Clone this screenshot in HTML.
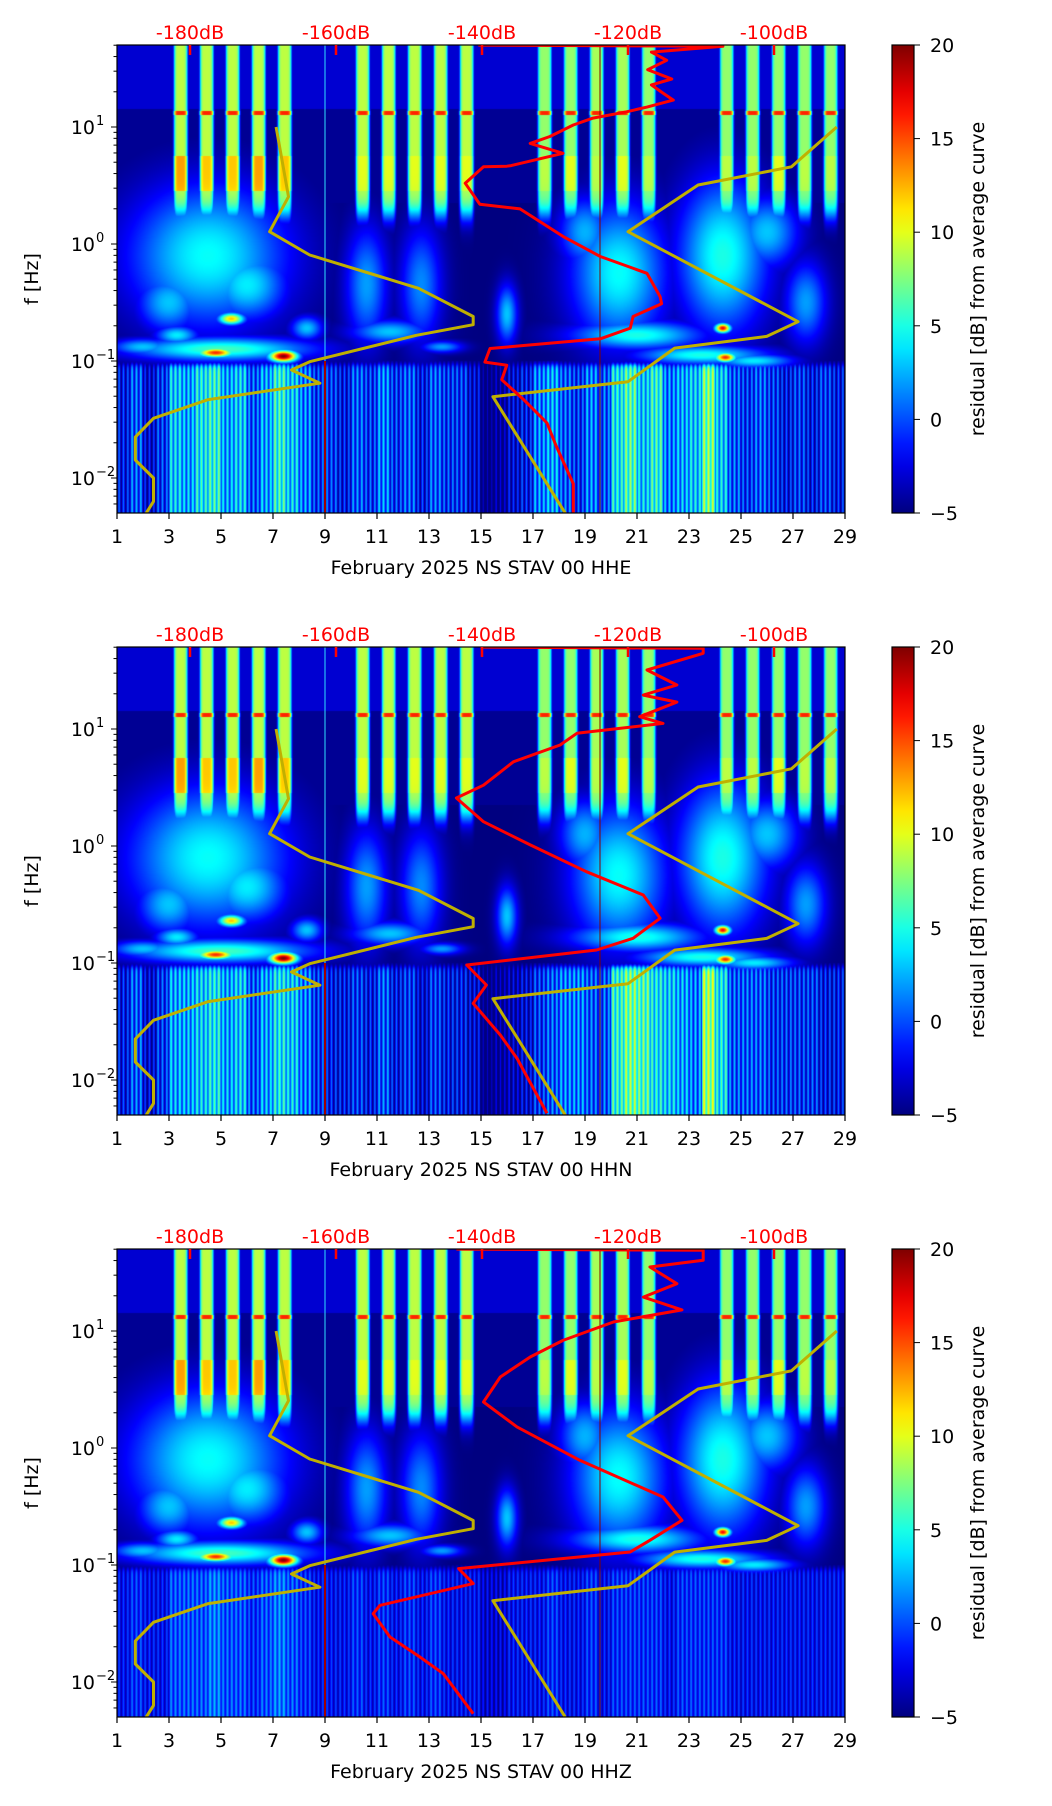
<!DOCTYPE html>
<html><head><meta charset="utf-8">
<style>
html,body{margin:0;padding:0;background:#fff;}
body{width:1052px;height:1806px;position:relative;overflow:hidden;font-family:"DejaVu Sans","Liberation Sans",sans-serif;}
canvas{position:absolute;}
svg{position:absolute;left:0;top:0;}
</style></head>
<body>
<canvas id="c0" width="728" height="468" style="left:117px;top:45px"></canvas>
<canvas id="c1" width="728" height="468" style="left:117px;top:647px"></canvas>
<canvas id="c2" width="728" height="468" style="left:117px;top:1249px"></canvas>
<svg id="ov" width="1052" height="1806"></svg>
<script>
// ---------- data ----------
const xTickDays=[1,3,5,7,9,11,13,15,17,19,21,23,25,27,29];
const dbTicks=[-180,-160,-140,-120,-100];
const cbTicks=[20,15,10,5,0,-5];
const yDecades=[1,0,-1,-2];
const panelTitles=["February 2025 NS STAV 00 HHE","February 2025 NS STAV 00 HHN","February 2025 NS STAV 00 HHZ"];
const stripeDays=[3.45,4.45,5.45,6.45,7.45,10.45,11.45,12.45,13.45,14.45,17.45,18.45,19.45,20.45,21.45,24.45,25.45,26.45,27.45,28.45];
const stripeVals=[9,9,9,9,9,9,9,9,9,9,8,8,8.5,8.5,8,8,8,8,8,8];
const stripeHot=[13,12,12,13,12,10,10,10,10,10,9,10,9,10,9,9,9,10,9,9];
const blobDay=[4.5,6.0,3.0,10.6,12.7,16.0,20.3,24.3,27.5,5.0,4.8,7.4,5.4,3.3,8.3,11.5,21.0,24.3,24.4,23.5,25.5,2.0,13.5,19.0,26.0];
const blobLogf=[-0.1,-0.35,-0.5,-0.35,-0.35,-0.6,-0.25,-0.1,-0.5,-0.9,-0.93,-0.96,-0.64,-0.78,-0.72,-0.75,-0.78,-0.72,-0.97,-0.95,-1.0,-0.88,-0.88,0.1,0.1];
const blobVal=[4.5,4,3,2,1.5,3,4.5,5,2,6,16,20,12,4,3,3,5,17,16,5,4,3,2,2.5,3];
const lowP1=[1,3,0,2,6,5,7,8,5,6,3,5,8,6,4,2,2,1,3,2,4,2,3,1,3,2,2,0,-3,-2,0,1,4,5,3,2,4,3,7,9,6,8,4,5,6,10,6,3,2,3,2,1,2,1,2,1];
const lowP2=[1,3,0,2,5,5,6,7,5,6,3,5,7,6,4,2,1,1,2,1,3,1,2,0,2,1,1,0,-3,-2,-1,0,2,3,4,4,3,3,8,10,9,7,6,5,4,11,7,3,3,3,2,2,2,2,1,1];
const lowP3=[0,1,0,0,2,2,2,3,2,2,1,2,3,2,1,0,0,0,1,0,1,0,1,0,1,0,0,0,-1,-1,0,0,0,1,0,0,1,0,1,1,1,1,0,1,1,1,1,0,0,0,0,0,0,0,0,0];
const nlnmLogf=[1,0.404,0.105,-0.094,-0.379,-0.62,-0.69,-0.78,-1.006,-1.077,-1.19,-1.33,-1.49,-1.65,-1.846,-2,-2.2,-2.3];
const nlnmDb=[-168.2,-166.5,-169.1,-163.6,-148.7,-141.2,-141.2,-149,-163.6,-166.1,-162.2,-177.5,-185,-187.5,-187.5,-185,-185,-186];
const nhnmLogf=[1,0.66,0.504,0.105,-0.664,-0.79,-0.89,-1.177,-1.305,-2.3];
const nhnmDb=[-91.4,-97.6,-110.4,-120,-96.7,-101,-113.6,-120,-138.5,-128.6];
const red1Logf=[1.7,1.69,1.64,1.57,1.49,1.41,1.36,1.29,1.23,1.17,1.13,1.076,1.017,0.919,0.86,0.775,0.67,0.665,0.66,0.52,0.34,0.30,0.065,-0.107,-0.25,-0.45,-0.51,-0.62,-0.72,-0.81,-0.893,-1.009,-1.036,-1.16,-1.33,-1.53,-1.733,-2.05,-2.3];
const red1Db=[-140.5,-107,-116.8,-114.7,-117.3,-114,-116.8,-115.2,-113.8,-117.4,-120.2,-124.8,-127.5,-130.7,-133.4,-128.9,-136,-136.6,-139.8,-142.3,-140.3,-134.8,-128.9,-123.8,-117.4,-115.6,-115.4,-119.3,-119.7,-123.8,-138.9,-139.6,-136.6,-137.3,-134.3,-131.1,-129.8,-127.5,-127.5];
const red2Logf=[1.7,1.69,1.647,1.504,1.376,1.29,1.23,1.105,1.048,0.963,0.863,0.72,0.52,0.41,0.208,0.009,-0.22,-0.419,-0.618,-0.789,-0.889,-1.017,-1.188,-1.345,-1.615,-1.815,-2.285];
const red2Db=[-140.2,-109.7,-109.7,-117.4,-113.3,-117.9,-113.3,-118.4,-115.2,-127,-129.3,-135.7,-139.8,-143.5,-139.8,-133.4,-125.7,-117.9,-115.6,-119.3,-124.3,-142.1,-139.4,-141.2,-137.5,-135.2,-131.1];
const red3Logf=[1.7,1.69,1.604,1.547,1.404,1.29,1.18,1.077,0.92,0.778,0.607,0.393,0.18,-0.105,-0.419,-0.618,-0.789,-0.889,-1.031,-1.159,-1.345,-1.416,-1.615,-1.786,-1.929,-2.271];
const red3Db=[-143.5,-109.7,-109.7,-117,-113.3,-117.9,-112.6,-122,-128.9,-133.4,-137.5,-139.8,-135.2,-126.6,-115.2,-112.6,-117,-119.7,-143.2,-141.2,-154,-154.9,-152.6,-148.5,-145.3,-141.2];

// ---------- geometry ----------
const L=117,W=728,H=468,TOPS=[45,647,1249];
const xDay=d=>L+(d-1)*W/28;
const xDb=db=>L+(db+190)*7.3;
const yF=(T,lf)=>T+82+(1-lf)*117;
const blobDW=[3.0,1.5,1.2,0.8,0.8,0.4,1.8,1.7,0.8,3.5,0.7,0.55,0.5,0.8,0.6,1.5,2.5,0.3,0.4,2.5,1.5,1.2,0.8,1.0,1.2];
const blobLW=[0.6,0.3,0.25,0.5,0.5,0.25,0.6,0.65,0.35,0.1,0.04,0.05,0.05,0.08,0.1,0.1,0.12,0.04,0.04,0.08,0.06,0.07,0.05,0.3,0.3];

function jet(v){
  let t=(v+5)/25; t=Math.max(0,Math.min(1,t));
  const f=x=>Math.max(0,Math.min(1,x));
  const r=f(1.5-Math.abs(4*t-3)), g=f(1.5-Math.abs(4*t-2)), b=f(1.5-Math.abs(4*t-1));
  return [r*255,g*255,b*255];
}
function drawSpec(id,low,amp){
  const c=document.getElementById(id),ctx=c.getContext('2d');
  const img=ctx.createImageData(W,H),d=img.data;
  for(let py=0;py<H;py++){
    const lf=1.7-(py+0.5)/117;
    const gy=1/(1+Math.exp(-(lf-0.25)/0.06));
    for(let px=0;px<W;px++){
      const day=1+(px+0.5)/26;
      let v=-5;
      if(lf>1.15) v=-3; else if(lf>0.35) v=-4.5;
      for(let i=0;i<stripeDays.length;i++){
        const dx=(day-stripeDays[i])/0.27; if(Math.abs(dx)>2) continue;
        let val=stripeVals[i];
        if(lf>0.45&&lf<0.75) val=stripeHot[i];
        if(Math.abs(lf-1.12)<0.02) val=16;
        const dx2=dx*dx;
        const g=Math.exp(-dx2*dx2*dx2)*gy;
        v=Math.max(v,-5+(val+5)*g);
      }
      for(let i=0;i<blobDay.length;i++){
        const dx=(day-blobDay[i])/blobDW[i],dy=(lf-blobLogf[i])/blobLW[i];
        const q=dx*dx+dy*dy; if(q>9) continue;
        v=Math.max(v,-5+(blobVal[i]+5)*Math.exp(-q));
      }
      if(lf<-1.0){
        const k=Math.min(55,Math.floor((day-1)*2));
        const frac=(day-1)*2-k;
        const cv=low[k]-amp*(0.5+0.5*Math.cos(frac*Math.PI*6));
        const t=1/(1+Math.exp((lf+1.03)/0.015));
        v=Math.max(v,-5+(cv+5)*t);
      }
      const [r,g,b]=jet(v);const o=(py*W+px)*4;
      d[o]=r;d[o+1]=g;d[o+2]=b;d[o+3]=255;
    }
  }
  ctx.putImageData(img,0,0);
}
drawSpec('c0',lowP1,6);drawSpec('c1',lowP2,6);drawSpec('c2',lowP3,4);

// ---------- svg overlay ----------
const NS="http://www.w3.org/2000/svg",ov=document.getElementById('ov');
function mk(tag,a,parent){const e=document.createElementNS(NS,tag);for(const k in a)e.setAttribute(k,a[k]);(parent||ov).appendChild(e);return e;}
const defs=mk('defs',{});
const lg=mk('linearGradient',{id:'jetg',x1:0,y1:1,x2:0,y2:0},defs);
for(let i=0;i<=20;i++){const[r,g,b]=jet(-5+25*i/20);mk('stop',{offset:i/20,'stop-color':`rgb(${r|0},${g|0},${b|0})`},lg);}

const reds=[[red1Logf,red1Db],[red2Logf,red2Db],[red3Logf,red3Db]];
TOPS.forEach((T,p)=>{
  const g=mk('g',{});
  
  
  const vl=mk('line',{x1:xDay(9),x2:xDay(9),y1:T,y2:T+H,stroke:'#30e0ff','stroke-width':1},g);
  
  
  const vl2=mk('line',{x1:xDay(9),x2:xDay(9),y1:yF(T,-1.0),y2:T+H,stroke:'#a00000','stroke-width':2},g);
  
  
  const vl3=mk('line',{x1:600,x2:600,y1:T,y2:T+H,stroke:'#800000','stroke-width':1},g);
  
  
  const pl=(lfA,dbA,col,w,name)=>{
    const pts=lfA.map((lf,i)=>xDb(dbA[i]).toFixed(1)+','+yF(T,lf).toFixed(1)).join(' ');
    const e=mk('polyline',{points:pts,fill:'none',stroke:col,'stroke-width':w,'stroke-linejoin':'round'},g);
    
    
  };
  const cp=mk('clipPath',{id:'cp'+p},defs);mk('rect',{x:L,y:T,width:W,height:H},cp);
  g.setAttribute('clip-path','url(#cp'+p+')');
  pl(nlnmLogf,nlnmDb,'#c0b000',3,'nlnm-curve');
  pl(nhnmLogf,nhnmDb,'#c0b000',3,'nhnm-curve');
  pl(reds[p][0],reds[p][1],'#ff0000',3,'mean-psd-curve');
  const fr=mk('rect',{x:L,y:T,width:W,height:H,fill:'none',stroke:'#000','stroke-width':1.2});
  
  
  dbTicks.forEach(db=>{
    const x=xDb(db);
    const t=mk('line',{x1:x,x2:x,y1:T,y2:T+10,stroke:'#ff0000','stroke-width':2.5});
    
    
    const tx=mk('text',{x:x,y:T-6,'text-anchor':'middle','font-size':19,fill:'#ff0000'});
    tx.textContent=db+'dB';
    
    
  });
  xTickDays.forEach(dd=>{
    const x=xDay(dd);
    const t=mk('line',{x1:x,x2:x,y1:T+H,y2:T+H+6,stroke:'#000','stroke-width':1.2});
    
    
    const tx=mk('text',{x:x,y:T+H+30,'text-anchor':'middle','font-size':19,fill:'#000'});
    tx.textContent=dd;
    
    
  });
  const xl=mk('text',{x:L+W/2,y:T+H+61,'text-anchor':'middle','font-size':19,fill:'#000'});
  xl.textContent=panelTitles[p];
  
  
  for(let n=-3;n<=1;n++){for(let k=1;k<10;k++){
    const lf=n+Math.log10(k); if(lf<-2.3||lf>1.7) continue;
    const y=yF(T,lf);
    const t=mk('line',{x1:L,x2:L-(k==1?6:3.5),y1:y,y2:y,stroke:'#000','stroke-width':1});
    
    
  }}
  yDecades.forEach(n=>{
    const y=yF(T,n);
    const tx=mk('text',{x:95,y:y+7,'text-anchor':'end','font-size':19,fill:'#000'});
    tx.textContent='10';
    
    
    const sp=mk('text',{x:96,y:y-2,'text-anchor':'start','font-size':13,fill:'#000'});
    sp.textContent=n<0?'\u2212'+(-n):''+n;
    
    
  });
  const yl=mk('text',{x:0,y:0,'text-anchor':'middle','font-size':19,fill:'#000',transform:`translate(38,${T+H/2}) rotate(-90)`});
  yl.textContent='f [Hz]';
  
  
  const cb=mk('rect',{x:892,y:T,width:22,height:H,fill:'url(#jetg)',stroke:'#000','stroke-width':1.2});
  
  
  cbTicks.forEach(v=>{
    const y=T+H-(v+5)/25*H;
    const t=mk('line',{x1:914,x2:920,y1:y,y2:y,stroke:'#000','stroke-width':1});
    
    
    const tx=mk('text',{x:930,y:y+7,'font-size':19,fill:'#000'});
    tx.textContent=v<0?'\u2212'+(-v):v;
    
    
  });
  const cl=mk('text',{x:0,y:0,'text-anchor':'middle','font-size':19,fill:'#000',transform:`translate(984,${T+H/2}) rotate(-90)`});
  cl.textContent='residual [dB] from average curve';
  
  
});
</script>
</body></html>
